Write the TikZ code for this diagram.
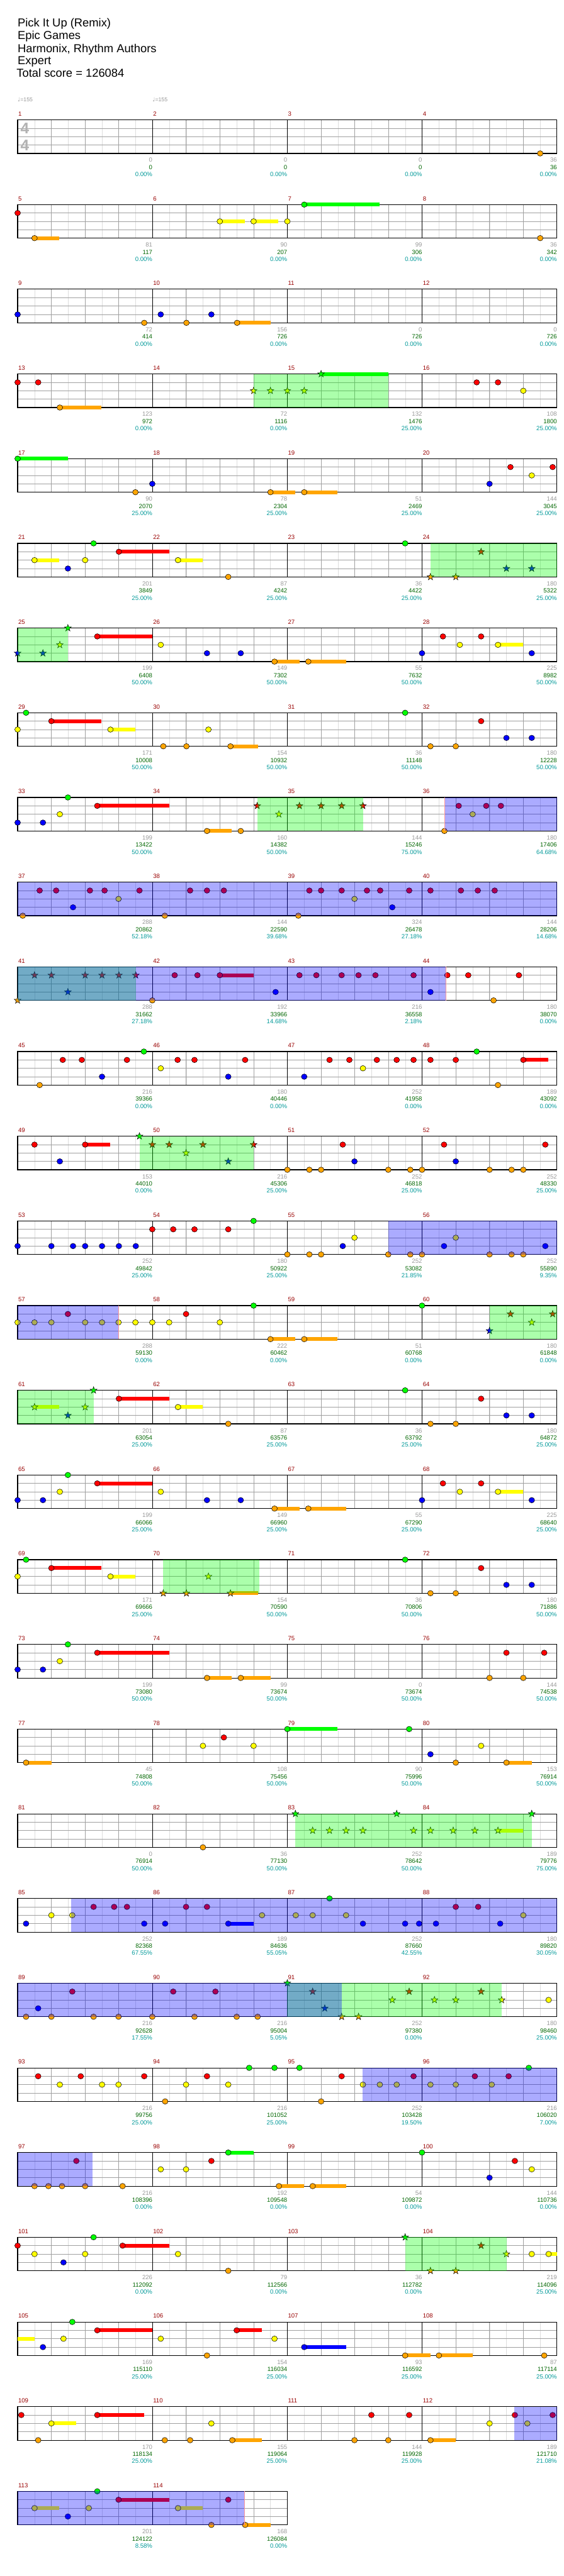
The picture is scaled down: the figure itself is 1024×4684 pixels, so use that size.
\documentclass[tikz,border=0pt]{standalone}
\usepackage{fontspec}
\setmainfont{Liberation Sans}
\newfontfamily\djv{DejaVu Sans}
\definecolor{lane0}{HTML}{00FF00}
\definecolor{lane1}{HTML}{FF0000}
\definecolor{lane2}{HTML}{FFFF00}
\definecolor{lane3}{HTML}{0000FF}
\definecolor{lane4}{HTML}{FFA500}
\definecolor{numgray}{HTML}{999999}
\definecolor{numgreen}{HTML}{006600}
\definecolor{numteal}{HTML}{009999}
\definecolor{mred}{HTML}{990000}
\definecolor{eighthc}{HTML}{DDDDDD}
\definecolor{beatc}{HTML}{A0A0A0}
\definecolor{pinkc}{HTML}{FF9999}
\tikzset{
  gemline/.style={draw=black,line width=0.6pt},
  eighthline/.style={draw=eighthc,line width=0.6pt},
  beatline/.style={draw=beatc,line width=0.8pt},
  measline/.style={draw=black,line width=0.7pt},
  laneline/.style={draw=beatc,line width=1pt},
  frameline/.style={draw=black,line width=1.2pt},
  numtxt/.style={inner sep=0pt,anchor=base east,font=\fontsize{11}{13}\selectfont},
  gnum/.style={numtxt,text=numgray},
  cnum/.style={numtxt,text=numgreen},
  pnum/.style={numtxt,text=numteal},
  mnum/.style={inner sep=0pt,anchor=base west,text=mred,font=\fontsize{11}{13}\selectfont},
  headtxt/.style={inner sep=0pt,anchor=base west,font=\fontsize{21}{24}\selectfont},
  tempotxt/.style={inner sep=0pt,anchor=base west,text=numgray,font=\fontsize{10}{12}\selectfont},
  tsig/.style={inner sep=0pt,text=black!30,font=\fontsize{28}{28}\selectfont\bfseries}
}
\newcommand\drawstaff[2]{%
  \pgfmathsetmacro\ty{218+154*(#1-1)}%
  \pgfmathsetmacro\by{\ty+61}%
  \pgfmathtruncatemacro\nei{8*#2-1}%
  \pgfmathsetmacro\rx{32+245*#2}%
  \foreach \k in {1,...,\nei}{\draw[eighthline] ({32+30.625*\k},\ty) -- ({32+30.625*\k},\by);}
  \foreach \k in {2,4,...,\nei}{\draw[beatline] ({32+30.625*\k},\ty) -- ({32+30.625*\k},\by);}
  \foreach \l in {1,2,3}{\draw[laneline] (32,{\ty+15.25*\l}) -- (\rx,{\ty+15.25*\l});}
  \pgfmathtruncatemacro\mlast{#2-1}%
  \foreach \m in {1,...,\mlast}{\draw[measline] ({32+245*\m},\ty) -- ({32+245*\m},\by);}
  \draw[frameline] (32,\ty) rectangle (\rx,\by);
  \foreach \m in {0,...,\mlast}{%
    \pgfmathtruncatemacro\mn{4*(#1-1)+\m+1}%
    \node[mnum] (m-\mn) at ({33+245*\m},{\ty-7}) {\mn};}
}
\newcommand\gem[3]{\pgfmathsetmacro\gx{#2/1.5}\pgfmathsetmacro\gy{218+154*(#1-1)+#3*15.25}%
  \filldraw[gemline,fill=lane#3] (\gx,\gy) ellipse[x radius=5.2pt,y radius=5pt];}
\newcommand\gems[3]{\foreach \xx in {#3}{\gem{#1}{\xx}{#2}}}
\newcommand\stg[3]{\pgfmathsetmacro\gx{#2/1.5}\pgfmathsetmacro\gy{218+154*(#1-1)+#3*15.25}%
  \filldraw[gemline,fill=lane#3,shift={(\gx,\gy)}] (90:6.5pt)--(126:2.6pt)--(162:6.5pt)--(198:2.6pt)--(234:6.5pt)--(270:2.6pt)--(306:6.5pt)--(342:2.6pt)--(18:6.5pt)--(54:2.6pt)--cycle;}
\newcommand\stgs[3]{\foreach \xx in {#3}{\stg{#1}{\xx}{#2}}}
\newcommand\sus[4]{\pgfmathsetmacro\sa{#2/1.5}\pgfmathsetmacro\sb{#3/1.5}\pgfmathsetmacro\sy{218+154*(#1-1)+#4*15.25}%
  \fill[lane#4] (\sa,{\sy-3.5}) rectangle (\sb,{\sy+3.5});}
\newcommand\odr[3]{\pgfmathsetmacro\sa{#2/1.5}\pgfmathsetmacro\sb{#3/1.5}\pgfmathsetmacro\sy{218+154*(#1-1)}%
  \fill[lane0,fill opacity=0.33] (\sa,\sy) rectangle (\sb,{\sy+61});}
\newcommand\solor[3]{\pgfmathsetmacro\sa{#2/1.5}\pgfmathsetmacro\sb{#3/1.5}\pgfmathsetmacro\sy{218+154*(#1-1)}%
  \fill[lane3,fill opacity=0.33] (\sa,\sy) rectangle (\sb,{\sy+61});}
\newcommand\pinkl[2]{\pgfmathsetmacro\sa{#2/1.5}\pgfmathsetmacro\sy{218+154*(#1-1)}%
  \draw[pinkc,line width=1pt] (\sa,\sy) -- (\sa,{\sy+61});}
\newcommand\nums[2]{\pgfmathsetmacro\ny{218+154*(#1-1)+61}%
  \foreach \na/\nb/\nc [count=\i] in {#2}{%
    \pgfmathsetmacro\nx{32+245*\i}%
    \node[gnum] (sg-#1-\i) at (\nx,{\ny+16}) {\na};
    \node[cnum] (sc-#1-\i) at (\nx,{\ny+29}) {\nb};
    \node[pnum] (sp-#1-\i) at (\nx,{\ny+42}) {\nc\%};}}
\begin{document}
\begin{tikzpicture}[x=1pt,y=-1pt]
\useasboundingbox (0,0) rectangle (1024,4684);
\fill[white] (0,0) rectangle (1024,4684);
% header
\node[headtxt] (title) at (32,49) {Pick It Up (Remix)};
\node[headtxt] (artist) at (32,72) {Epic Games};
\node[headtxt] (author) at (32,95) {Harmonix, Rhythm Authors};
\node[headtxt] (diff) at (32,117) {Expert};
\node[headtxt] (total) at (30,140) {Total score = 126084};
\node[tempotxt] (tempo1) at (32,185) {{\djv ♩}=155};
\node[tempotxt] (tempo2) at (277,185) {{\djv ♩}=155};
% staves
\foreach \r in {1,...,28}{\drawstaff{\r}{4}}
\drawstaff{29}{2}
\node[tsig] (ts1) at (45,233) {4};
\node[tsig] (ts2) at (45,264) {4};
% row 1
\gems{1}{4}{1472}
% row 2
\sus{2}{94}{162}{4}\sus{2}{599}{667}{2}\sus{2}{691}{759}{2}\sus{2}{829}{1035}{0}
\gems{2}{1}{48}\gems{2}{4}{94,1472}\gems{2}{2}{599,691,783}\gems{2}{0}{829}
% row 3
\sus{3}{646}{737}{4}
\gems{3}{3}{48,438,576}\gems{3}{4}{393,508,646}
% row 4
\sus{4}{163}{277}{4}\sus{4}{875}{1058}{0}
\gems{4}{1}{48,104,1299,1357}\gems{4}{4}{163}\gems{4}{2}{1426}
\stgs{4}{2}{691,737,783,829}\stgs{4}{0}{875}
\odr{4}{691}{1058}
% row 5
\sus{5}{48}{185}{0}\sus{5}{737}{805}{4}\sus{5}{829}{920}{4}
\gems{5}{0}{48}\gems{5}{4}{369,737,829}\gems{5}{3}{415,1334}\gems{5}{1}{1391,1506}\gems{5}{2}{1449}
% row 6
\sus{6}{94}{162}{2}\sus{6}{324}{461}{1}\sus{6}{485}{553}{2}
\gems{6}{2}{94,232,485}\gems{6}{3}{185}\gems{6}{0}{255,1104}\gems{6}{1}{324}\gems{6}{4}{622}
\stgs{6}{4}{1173,1242}\stgs{6}{1}{1311}\stgs{6}{3}{1380,1449}
\odr{6}{1173}{1518}
% row 7
\sus{7}{265}{415}{1}\sus{7}{748}{816}{4}\sus{7}{840}{943}{4}\sus{7}{1357}{1426}{2}
\stgs{7}{3}{48,117}\stgs{7}{2}{163}\stgs{7}{0}{185}
\gems{7}{1}{265,1207,1311}\gems{7}{2}{438,1253,1357}\gems{7}{3}{564,656,1150,1449}\gems{7}{4}{748,840}
\odr{7}{48}{185}
% row 8
\sus{8}{140}{277}{1}\sus{8}{301}{369}{2}\sus{8}{628}{704}{4}
\gems{8}{2}{48,301,568}\gems{8}{0}{71,1104}\gems{8}{1}{140,1311}\gems{8}{4}{445,508,628,1173,1242}\gems{8}{3}{1380,1449}
% row 9
\sus{9}{265}{461}{1}\sus{9}{564}{632}{4}
\gems{9}{3}{48,117}\gems{9}{2}{163,1288}\gems{9}{0}{185}\gems{9}{1}{265,1250,1325,1365}\gems{9}{4}{564,656,1211}
\stgs{9}{1}{701,816,875,931,989}\stgs{9}{2}{760}
\odr{9}{701}{989}
\solor{9}{1211}{1518}\pinkl{9}{1211}
% row 10
\gems{10}{4}{62,449,813}
\gems{10}{1}{108,153,245,285,380,518,564,610,843,875,931,1000,1036,1115,1173,1256,1302,1348}
\gems{10}{3}{199,1069}\gems{10}{2}{323,966}
\solor{10}{48}{1518}
% row 11
\sus{11}{599}{691}{1}
\stgs{11}{4}{48}\stgs{11}{1}{94,140,232,278,324,370}\stgs{11}{3}{185}
\gems{11}{4}{415,1345}\gems{11}{1}{476,538,599,816,862,931,977,1023,1127,1219,1276,1414}\gems{11}{3}{751,1173}
\odr{11}{48}{370}
\solor{11}{48}{1216}\pinkl{11}{1216}
% row 12
\sus{12}{1426}{1494}{1}
\gems{12}{4}{108,1357}\gems{12}{1}{171,223,346,484,530,668,898,952,1027,1081,1127,1173,1242,1426}
\gems{12}{3}{278,622,829}\gems{12}{0}{392,1299}\gems{12}{2}{438,989}
% row 13
\sus{13}{232}{300}{1}
\gems{13}{1}{94,232,934,1210,1486}\gems{13}{3}{163,966,1242}
\stgs{13}{0}{380}\stgs{13}{1}{415,461,553,691}\stgs{13}{2}{507}\stgs{13}{3}{622}
\gems{13}{4}{783,843,875,1058,1118,1150,1334,1394,1426}
\odr{13}{380}{691}
% row 14
\gems{14}{3}{48,140,199,232,278,324,370,934,1210,1486}\gems{14}{1}{415,472,530,622}\gems{14}{0}{691}
\gems{14}{4}{783,843,875,1058,1118,1150,1334,1394,1426}\gems{14}{2}{966,1242}
\solor{14}{1058}{1518}
% row 15
\sus{15}{737}{805}{4}\sus{15}{829}{920}{4}
\gems{15}{2}{48,94,140,232,278,323,369,415,461,599}\gems{15}{1}{185,507}\gems{15}{0}{691,1150}\gems{15}{4}{737,829}
\stgs{15}{3}{1334}\stgs{15}{1}{1391,1506}\stgs{15}{2}{1449}
\solor{15}{48}{323}\pinkl{15}{323}
\odr{15}{1334}{1518}
% row 16
\sus{16}{94}{162}{2}\sus{16}{324}{461}{1}\sus{16}{485}{553}{2}
\stgs{16}{2}{94,232}\stgs{16}{3}{185}\stgs{16}{0}{255}
\gems{16}{1}{324,1311}\gems{16}{2}{485}\gems{16}{4}{622,1173,1242}\gems{16}{0}{1104}\gems{16}{3}{1380,1449}
\odr{16}{48}{255}
% row 17
\sus{17}{265}{415}{1}\sus{17}{748}{816}{4}\sus{17}{840}{943}{4}\sus{17}{1357}{1426}{2}
\gems{17}{3}{48,117,564,656,1150,1449}\gems{17}{2}{163,438,1253,1357}\gems{17}{0}{185}\gems{17}{1}{265,1207,1311}\gems{17}{4}{748,840}
% row 18
\sus{18}{140}{277}{1}\sus{18}{301}{369}{2}\sus{18}{628}{704}{4}
\gems{18}{2}{48,301}\gems{18}{0}{71,1104}\gems{18}{1}{140,1311}\gems{18}{4}{1173,1242}\gems{18}{3}{1380,1449}
\stgs{18}{4}{445,508,628}\stgs{18}{2}{568}
\odr{18}{445}{706}
% row 19
\sus{19}{265}{461}{1}\sus{19}{564}{632}{4}\sus{19}{656}{737}{4}
\gems{19}{3}{48,117}\gems{19}{2}{163}\gems{19}{0}{185}\gems{19}{1}{265,1380,1483}\gems{19}{4}{564,656,1334,1426}
% row 20
\sus{20}{71}{140}{4}\sus{20}{783}{920}{0}\sus{20}{1380}{1449}{4}
\gems{20}{4}{71,1242,1380}\gems{20}{2}{553,691,1311}\gems{20}{1}{610}\gems{20}{0}{783,1115}\gems{20}{3}{1173}
% row 21
\sus{21}{1357}{1426}{2}
\gems{21}{4}{553}
\stgs{21}{0}{805,1081,1449}\stgs{21}{2}{852,898,943,989,1127,1173,1235,1294,1357}
\odr{21}{805}{1449}
% row 22
\sus{22}{622}{691}{3}
\gems{22}{3}{71,393,450,622,989,1104,1142,1188,1363}\gems{22}{2}{140,197,714,806,852,943,1426}
\gems{22}{1}{255,311,346,507,564,1242,1303}\gems{22}{0}{898}
\solor{22}{194}{1518}
% row 23
\gems{23}{4}{71,140,255,323,415,530,645,702}\gems{23}{3}{104}\gems{23}{1}{197,472,587}\gems{23}{2}{1495}
\stgs{23}{0}{783}\stgs{23}{1}{852,1115,1311}\stgs{23}{3}{885}\stgs{23}{4}{931,977}\stgs{23}{2}{1069,1184,1242,1367}
\odr{23}{783}{1367}
\solor{23}{48}{931}
% row 24
\gems{24}{1}{104,220,393,564,931,1127,1294,1386}\gems{24}{2}{163,278,323,507,622,989,1035,1081,1173,1242,1340}
\gems{24}{4}{450,875}\gems{24}{0}{679,748,816,1441}
\solor{24}{988}{1518}
% row 25
\sus{25}{622}{691}{0}\sus{25}{760}{828}{4}\sus{25}{852}{943}{4}
\gems{25}{4}{94,132,169,232,334,760,852}\gems{25}{1}{208,576,1403}\gems{25}{2}{438,507,1449}\gems{25}{0}{622,1150}\gems{25}{3}{1334}
\solor{25}{48}{253}
% row 26
\sus{26}{334}{461}{1}\sus{26}{1495}{1518}{2}
\gems{26}{1}{48,334}\gems{26}{2}{94,232,485,1449,1495}\gems{26}{3}{173}\gems{26}{0}{255}\gems{26}{4}{622}
\stgs{26}{0}{1104}\stgs{26}{4}{1173,1242}\stgs{26}{1}{1311}\stgs{26}{2}{1380}
\odr{26}{1104}{1380}
% row 27
\sus{27}{48}{94}{2}\sus{27}{265}{415}{1}\sus{27}{645}{714}{1}\sus{27}{829}{943}{3}\sus{27}{1104}{1173}{4}\sus{27}{1196}{1288}{4}
\gems{27}{3}{117,829}\gems{27}{2}{173,438,748}\gems{27}{0}{197}\gems{27}{1}{265,645}\gems{27}{4}{564,1104,1196,1483}
% row 28
\sus{28}{140}{208}{2}\sus{28}{265}{392}{1}\sus{28}{633}{714}{4}\sus{28}{1173}{1242}{4}
\gems{28}{1}{58,265,1012,1115,1403,1506}\gems{28}{4}{104,449,518,633,966,1058,1173}\gems{28}{2}{140,576,1334,1437}
\solor{28}{1401}{1518}
% row 29
\sus{29}{94}{162}{2}\sus{29}{323}{461}{1}\sus{29}{485}{553}{2}\sus{29}{668}{737}{4}
\gems{29}{2}{94,242,485}\gems{29}{3}{185}\gems{29}{0}{265}\gems{29}{1}{323,622}\gems{29}{4}{576,668}
\solor{29}{48}{667}\pinkl{29}{667}
% numbers
\nums{1}{0/0/0.00,0/0/0.00,0/0/0.00,36/36/0.00}
\nums{2}{81/117/0.00,90/207/0.00,99/306/0.00,36/342/0.00}
\nums{3}{72/414/0.00,156/726/0.00,0/726/0.00,0/726/0.00}
\nums{4}{123/972/0.00,72/1116/0.00,132/1476/25.00,108/1800/25.00}
\nums{5}{90/2070/25.00,78/2304/25.00,51/2469/25.00,144/3045/25.00}
\nums{6}{201/3849/25.00,87/4242/25.00,36/4422/25.00,180/5322/25.00}
\nums{7}{199/6408/50.00,149/7302/50.00,55/7632/50.00,225/8982/50.00}
\nums{8}{171/10008/50.00,154/10932/50.00,36/11148/50.00,180/12228/50.00}
\nums{9}{199/13422/50.00,160/14382/50.00,144/15246/75.00,180/17406/64.68}
\nums{10}{288/20862/52.18,144/22590/39.68,324/26478/27.18,144/28206/14.68}
\nums{11}{288/31662/27.18,192/33966/14.68,216/36558/2.18,180/38070/0.00}
\nums{12}{216/39366/0.00,180/40446/0.00,252/41958/0.00,189/43092/0.00}
\nums{13}{153/44010/0.00,216/45306/25.00,252/46818/25.00,252/48330/25.00}
\nums{14}{252/49842/25.00,180/50922/25.00,252/53082/21.85,252/55890/9.35}
\nums{15}{288/59130/0.00,222/60462/0.00,51/60768/0.00,180/61848/0.00}
\nums{16}{201/63054/25.00,87/63576/25.00,36/63792/25.00,180/64872/25.00}
\nums{17}{199/66066/25.00,149/66960/25.00,55/67290/25.00,225/68640/25.00}
\nums{18}{171/69666/25.00,154/70590/50.00,36/70806/50.00,180/71886/50.00}
\nums{19}{199/73080/50.00,99/73674/50.00,0/73674/50.00,144/74538/50.00}
\nums{20}{45/74808/50.00,108/75456/50.00,90/75996/50.00,153/76914/50.00}
\nums{21}{0/76914/50.00,36/77130/50.00,252/78642/50.00,189/79776/75.00}
\nums{22}{252/82368/67.55,189/84636/55.05,252/87660/42.55,180/89820/30.05}
\nums{23}{216/92628/17.55,216/95004/5.05,252/97380/0.00,180/98460/25.00}
\nums{24}{216/99756/25.00,216/101052/25.00,252/103428/19.50,216/106020/7.00}
\nums{25}{216/108396/0.00,192/109548/0.00,54/109872/0.00,144/110736/0.00}
\nums{26}{226/112092/0.00,79/112566/0.00,36/112782/0.00,219/114096/25.00}
\nums{27}{169/115110/25.00,154/116034/25.00,93/116592/25.00,87/117114/25.00}
\nums{28}{170/118134/25.00,155/119064/25.00,144/119928/25.00,189/121710/21.08}
\nums{29}{201/124122/8.58,168/126084/0.00}
\end{tikzpicture}
\end{document}
